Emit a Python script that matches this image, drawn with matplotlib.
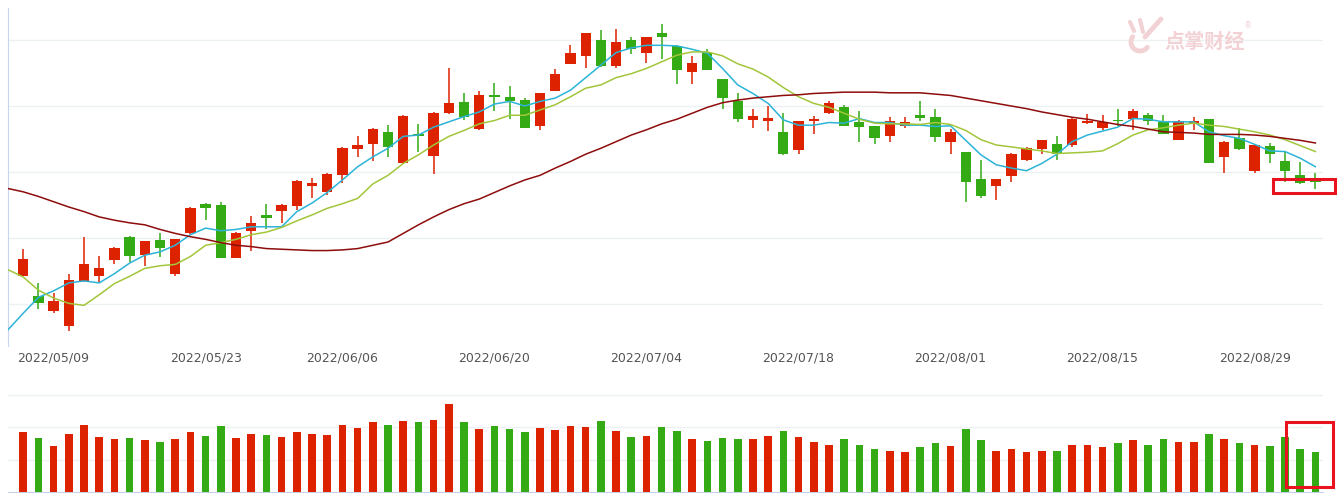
import matplotlib
matplotlib.use('Agg')
import matplotlib.pyplot as plt
from matplotlib.patches import Rectangle
import numpy as np
import pandas as pd

# trading days 2022/05/05 - 2022/09/02 (no trading on 06/03, dragon boat festival)
dates = pd.bdate_range('2022-05-05', '2022-09-02').drop(pd.Timestamp('2022-06-03'))
tick_labels = ['2022/05/09', '2022/05/23', '2022/06/06', '2022/06/20', '2022/07/04',
               '2022/07/18', '2022/08/01', '2022/08/15', '2022/08/29']

opens = [10.43, 10.12, 9.90, 9.66, 10.35, 10.43, 10.67, 11.02, 10.74, 10.97,
         10.45, 11.07, 11.52, 11.50, 10.70, 11.11, 11.35, 11.41, 11.48, 11.79,
         11.70, 11.95, 12.35, 12.43, 12.60, 12.13, 12.57, 12.24, 12.89, 13.06,
         12.65, 13.16, 13.13, 13.09, 12.69, 13.23, 13.64, 13.76, 14.00, 13.60,
         14.00, 13.80, 14.11, 13.91, 13.52, 13.80, 13.41, 13.08, 12.79, 12.77,
         12.61, 12.33, 12.77, 12.90, 12.98, 12.76, 12.70, 12.54, 12.70, 12.87,
         12.83, 12.45, 12.31, 11.89, 11.79, 11.94, 12.18, 12.35, 12.42, 12.41,
         12.75, 12.67, 12.79, 12.81, 12.86, 12.76, 12.49, 12.73, 12.80, 12.22,
         12.51, 12.02, 12.39, 12.16, 11.96, 11.87]
highs = [10.84, 10.32, 10.17, 10.45, 11.02, 10.73, 10.86, 11.03, 10.96, 11.07,
         10.99, 11.47, 11.53, 11.54, 11.09, 11.33, 11.52, 11.52, 11.88, 11.91,
         11.99, 12.38, 12.54, 12.66, 12.71, 12.86, 12.73, 12.91, 13.58, 13.20,
         13.23, 13.35, 13.30, 13.12, 13.20, 13.56, 13.93, 14.11, 14.15, 14.16,
         14.05, 14.05, 14.24, 13.92, 13.76, 13.86, 13.41, 13.19, 12.96, 13.00,
         12.89, 12.78, 12.85, 13.08, 13.01, 12.93, 12.70, 12.83, 12.84, 13.07,
         12.95, 12.65, 12.31, 12.18, 11.90, 12.29, 12.38, 12.49, 12.54, 12.83,
         12.88, 12.86, 12.95, 12.96, 12.90, 12.86, 12.79, 12.84, 12.81, 12.47,
         12.66, 12.41, 12.44, 12.31, 12.15, 11.98]
lows = [10.42, 9.93, 9.86, 9.59, 10.34, 10.34, 10.60, 10.63, 10.58, 10.72,
        10.43, 11.06, 11.28, 10.69, 10.69, 10.81, 11.14, 11.23, 11.43, 11.60,
        11.65, 11.83, 12.23, 12.17, 12.23, 12.12, 12.30, 11.97, 12.88, 12.79,
        12.64, 12.93, 12.80, 12.66, 12.64, 13.23, 13.63, 13.58, 13.59, 13.58,
        13.79, 13.65, 13.71, 13.33, 13.33, 13.54, 12.96, 12.76, 12.67, 12.62,
        12.26, 12.27, 12.57, 12.88, 12.70, 12.46, 12.42, 12.46, 12.66, 12.78,
        12.46, 12.27, 11.55, 11.60, 11.57, 11.85, 12.16, 12.28, 12.18, 12.38,
        12.73, 12.64, 12.70, 12.64, 12.71, 12.57, 12.48, 12.64, 12.13, 11.99,
        12.34, 11.99, 12.13, 11.85, 11.82, 11.75]
closes = [10.68, 10.01, 10.05, 10.36, 10.60, 10.55, 10.85, 10.73, 10.95, 10.85,
          10.98, 11.46, 11.45, 10.70, 11.08, 11.23, 11.30, 11.50, 11.86, 11.84,
          11.97, 12.36, 12.41, 12.65, 12.38, 12.85, 12.55, 12.90, 13.05, 12.84,
          13.17, 13.14, 13.07, 12.67, 13.19, 13.49, 13.80, 14.10, 13.60, 13.97,
          13.87, 14.05, 14.04, 13.54, 13.65, 13.55, 13.12, 12.80, 12.85, 12.82,
          12.27, 12.78, 12.80, 13.04, 12.70, 12.68, 12.51, 12.78, 12.76, 12.82,
          12.53, 12.60, 11.85, 11.64, 11.89, 12.28, 12.36, 12.48, 12.28, 12.81,
          12.78, 12.76, 12.77, 12.93, 12.78, 12.57, 12.78, 12.77, 12.13, 12.46,
          12.35, 12.41, 12.27, 12.02, 11.84, 11.85]
# volume, 10k lots
volume = [18.6, 16.6, 14.3, 18.0, 20.7, 16.9, 16.3, 16.6, 16.0, 15.3,
          16.3, 18.4, 17.3, 20.4, 16.6, 18.0, 17.6, 17.0, 18.4, 18.0,
          17.6, 20.7, 19.7, 21.4, 20.7, 21.7, 21.4, 22.2, 27.2, 21.4,
          19.4, 20.4, 19.4, 18.4, 19.7, 19.1, 20.4, 20.1, 21.7, 18.7,
          17.0, 17.3, 20.1, 18.7, 16.3, 15.6, 16.6, 16.3, 16.3, 17.3,
          18.7, 16.9, 15.3, 14.6, 16.3, 14.6, 13.2, 12.5, 12.2, 13.9,
          15.0, 14.2, 19.4, 16.0, 12.5, 13.2, 12.2, 12.5, 12.5, 14.6,
          14.6, 13.9, 15.0, 16.0, 14.6, 16.3, 15.3, 15.3, 17.9, 16.3,
          15.0, 14.6, 14.2, 16.9, 13.2, 12.2]

# moving averages, first value is the trading day before 05/05
ma5 = [9.61, 9.86, 10.10, 10.20, 10.32, 10.35, 10.32, 10.46, 10.62, 10.74, 10.79,
       10.89, 11.05, 11.15, 11.11, 11.13, 11.17, 11.17, 11.17, 11.40, 11.53,
       11.69, 11.88, 12.08, 12.23, 12.36, 12.54, 12.56, 12.68, 12.76, 12.84,
       12.91, 13.03, 13.07, 13.00, 13.07, 13.12, 13.24, 13.43, 13.62, 13.81,
       13.88, 13.92, 13.92, 13.91, 13.86, 13.80, 13.57, 13.32, 13.19, 13.04,
       12.79, 12.71, 12.71, 12.75, 12.74, 12.81, 12.75, 12.75, 12.71, 12.71,
       12.69, 12.70, 12.48, 12.26, 12.11, 12.06, 12.02, 12.13, 12.27, 12.46,
       12.56, 12.62, 12.68, 12.81, 12.80, 12.76, 12.76, 12.76, 12.61, 12.55,
       12.51, 12.42, 12.32, 12.31, 12.21, 12.08]
ma10 = [10.52, 10.41, 10.21, 10.09, 10.01, 9.98, 10.14, 10.31, 10.42, 10.54, 10.58,
        10.60, 10.72, 10.89, 10.93, 10.98, 11.05, 11.09, 11.16, 11.26, 11.35,
        11.45, 11.52, 11.60, 11.82, 11.95, 12.13, 12.26, 12.41, 12.54, 12.63,
        12.73, 12.78, 12.86, 12.86, 12.94, 13.02, 13.14, 13.27, 13.32, 13.43,
        13.49, 13.57, 13.67, 13.77, 13.82, 13.82, 13.76, 13.64, 13.56, 13.44,
        13.28, 13.14, 13.04, 12.98, 12.89, 12.80, 12.74, 12.73, 12.73, 12.72,
        12.75, 12.72, 12.63, 12.49, 12.41, 12.38, 12.35, 12.32, 12.28, 12.29,
        12.30, 12.32, 12.43, 12.56, 12.64, 12.67, 12.71, 12.74, 12.71, 12.69,
        12.65, 12.61, 12.56, 12.49, 12.40, 12.31]
ma60 = [11.75, 11.70, 11.63, 11.55, 11.47, 11.40, 11.32, 11.27, 11.23, 11.20, 11.13,
        11.07, 11.02, 10.98, 10.93, 10.89, 10.87, 10.84, 10.83, 10.82, 10.81,
        10.81, 10.82, 10.84, 10.89, 10.94, 11.07, 11.20, 11.32, 11.43, 11.52,
        11.59, 11.69, 11.79, 11.88, 11.95, 12.06, 12.16, 12.27, 12.36, 12.46,
        12.56, 12.64, 12.73, 12.80, 12.89, 12.98, 13.05, 13.09, 13.12, 13.14,
        13.16, 13.17, 13.19, 13.20, 13.21, 13.21, 13.21, 13.20, 13.20, 13.20,
        13.18, 13.16, 13.12, 13.08, 13.04, 13.00, 12.96, 12.91, 12.87, 12.83,
        12.80, 12.76, 12.72, 12.69, 12.65, 12.61, 12.60, 12.59, 12.57, 12.57,
        12.57, 12.56, 12.54, 12.51, 12.48, 12.44]

red = '#dd2200'
green = '#34aa14'
W, H = 1343, 493

o = np.array(opens)
c = np.array(closes)
x = np.arange(len(o))
up = c >= o
cols = np.where(up, red, green)
xma = np.arange(-1, len(o))

fig = plt.figure(figsize=(W / 100, H / 100), dpi=100)
ax = fig.add_axes([8 / W, 1 - 346 / H, 1315 / W, 338 / H])
axv = fig.add_axes([8 / W, 1 / H, 1315 / W, 102 / H])

# candles
ax.vlines(x, lows, highs, colors=cols, lw=1.1, zorder=2)
body = np.maximum(np.abs(c - o), 0.012)
ax.bar(x, body, bottom=np.minimum(o, c), width=0.68, color=cols, zorder=3)
ax.plot(xma, ma5, color='#2cb4d8', lw=1.1, zorder=4)
ax.plot(xma, ma10, color='#a2c63a', lw=1.1, zorder=4)
ax.plot(xma, ma60, color='#8e0c0c', lw=1.1, zorder=4)

ax.set_xlim(-1, 85.5)
ax.set_ylim(9.364, 14.485)
ax.set_yticks([10, 11, 12, 13, 14])
ax.grid(True, axis='y', color='#edf1f4', lw=1)
ax.set_axisbelow(True)
for s in ['top', 'right', 'bottom']:
    ax.spines[s].set_visible(False)
ax.spines['left'].set_color('#c8d5ee')
ax.tick_params(axis='y', left=False, labelleft=False)
pos = [list(dates.strftime('%Y/%m/%d')).index(t) for t in tick_labels]
ax.set_xticks(pos)
ax.set_xticklabels(tick_labels, fontsize=9, color='#555555')
ax.tick_params(axis='x', length=0, pad=4)

# volume
axv.bar(x, volume, width=0.5, color=cols, zorder=3)
axv.set_xlim(-1, 85.5)
axv.set_ylim(0, 102 / 3.25)
axv.set_yticks([10, 20, 30])
axv.grid(True, axis='y', color='#edf1f4', lw=1)
axv.set_axisbelow(True)
for s in ['top', 'right', 'left']:
    axv.spines[s].set_visible(False)
axv.spines['bottom'].set_color('#c5d0e8')
axv.tick_params(left=False, labelleft=False, bottom=False, labelbottom=False)

# overlay in pixel units for watermark and highlight boxes
ov = fig.add_axes([0, 0, 1, 1])
ov.set_xlim(0, W)
ov.set_ylim(H, 0)
ov.axis('off')
ov.patch.set_alpha(0)
pink = '#f3d2d5'
ov.plot([1130, 1134], [22, 31], color=pink, lw=3, solid_capstyle='round')
ov.plot([1140, 1143], [20, 32], color=pink, lw=3, solid_capstyle='round')
ov.plot([1161, 1145], [19, 37], color=pink, lw=3.5, solid_capstyle='round')
t = np.linspace(0.2, 1.2, 30) * np.pi
ov.plot(1140 + 9 * np.cos(t), 42 + 9 * np.sin(t), color=pink, lw=3.5, solid_capstyle='round')
ov.text(1164, 41, '点掌财经', fontsize=14.5, fontweight='bold', color=pink,
        family=['Noto Sans CJK SC', 'DejaVu Sans'], ha='left', va='center')
ov.text(1248, 26, '®', fontsize=6, color=pink, ha='center', va='center')
ov.add_patch(Rectangle((1273, 179), 62, 14, fill=False, ec='#e8131f', lw=2.2))
ov.add_patch(Rectangle((1286, 422), 47, 65, fill=False, ec='#e8131f', lw=2.2))

plt.savefig('out.png', dpi=100)
